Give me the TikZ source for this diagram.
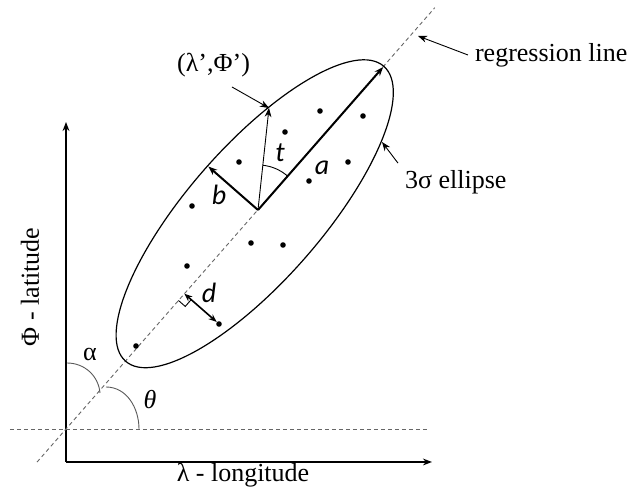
\documentclass[tikz,border=0pt]{standalone}
\usepackage{fontspec}
\setmainfont{Liberation Serif}
\newfontfamily\calfont{Carlito}
\usetikzlibrary{arrows.meta,calc,positioning}

\begin{document}
\begin{tikzpicture}[x=0.5pt, y=0.5pt, font=\fontsize{13}{15}\selectfont,
        tip/.style={-{Stealth[length=4.5pt,width=3.4pt]}},
        vec/.style={tip, line width=1pt},
        thinvec/.style={tip, line width=0.45pt},
        dot/.style={circle, fill, inner sep=0pt, minimum size=2.8pt},
        dashline/.style={dash pattern=on 2pt off 1.5pt, line width=0.45pt, gray!80!black},
        anglearc/.style={line width=0.45pt, gray!70!black},
        sym/.style={font=\calfont\itshape\fontsize{14}{16}\selectfont}]
        \useasboundingbox (0,0) rectangle (629,493);

        % axes
        \coordinate (origin) at (66,31);
        \coordinate (ytop) at (66,371);
        \coordinate (xend) at (432,31);
        \draw[tip, line width=1pt] (origin) -- (ytop);
        \draw[tip, line width=1pt] (origin) -- (xend);
        \node (xlabel) at (243,18) {λ - longitude};
        \node[rotate=90] (ylabel) at (30,206) {Φ - latitude};

        % horizontal and regression lines
        \coordinate (hleft) at (10,64);
        \coordinate (hright) at (430,64);
        \coordinate (cross) at (66,64);
        \coordinate (rlow) at ($(cross)+(228.8:44)$);
        \coordinate (rhigh) at ($(cross)+(48.8:560)$);
        \draw[dashline] (hleft) -- (hright);
        \draw[dashline] (rlow) -- (rhigh);

        % ellipse and its axes
        \coordinate (center) at (258,283);
        \coordinate (ellcenter) at ($(center)+(228.8:5)$);
        \draw[line width=0.6pt, rotate around={48.8:(ellcenter)}] (ellcenter) ellipse [x radius=196, y radius=67];
        \coordinate (atip) at ($(center)+(48.8:190)$);
        \coordinate (btip) at ($(center)+(138.8:66)$);
        \coordinate (newpt) at (269,385);
        \draw[vec] (center) -- (atip);
        \draw[vec] (center) -- (btip);
        \draw[thinvec] (center) -- (newpt);
        \draw[line width=0.45pt] ($(center)+(83.8:45)$) arc[start angle=83.8, end angle=48.8, radius=45];
        \node[sym] (alabel) at (322,325) {a};
        \node[sym] (blabel) at (219,298) {b};
        \node[sym] (tlabel) at (280,340) {t};

        % observations
        \foreach \px/\py [count=\i] in {320/382, 363/377, 285/361, 239/331, 348/331, 309/312,
                192/287, 251/250, 283/248, 187/227, 219/169, 136/147}
            \node[dot] (obs\i) at (\px,\py) {};

        % distance d to the line
        \coordinate (foot) at ($(rlow)!(obs11)!(rhigh)$);
        \coordinate (mark1) at ($(foot)!4.5pt!(rlow)$);
        \coordinate (mark3) at ($(foot)!4.5pt!(obs11)$);
        \coordinate (mark2) at ($(mark1)+(mark3)-(foot)$);
        \draw[line width=0.45pt] (mark1) -- (mark2) -- (mark3);
        \draw[{Stealth[length=4pt,width=3.2pt]}-{Stealth[length=4pt,width=3.2pt]}, line width=0.8pt] (foot) -- (obs11);
        \node[sym] (dlabel) at (209,200) {d};

        % angles
        \coordinate (alpha1) at (67,130);
        \coordinate (alpha2) at (100,100);
        \coordinate (theta1) at (106,106);
        \coordinate (theta2) at (139,64);
        \draw[anglearc] (alpha1) to[out=0, in=95] (alpha2);
        \draw[anglearc] (theta1) to[out=0, in=90] (theta2);
        \node (alphalabel) at (90,138) {α};
        \node (thetalabel) at (150,93) {\textit{θ}};

        % annotations
        \node[anchor=west] (regtext) at (468,438) {regression line};
        \coordinate (regpt) at (418,457);
        \draw[thinvec] (regtext.west) -- (regpt);
        \node[anchor=west] (elltext) at (398,311) {3σ ellipse};
        \coordinate (ellpt) at (382,351);
        \draw[thinvec] (elltext.north west) -- (ellpt);
        \node[anchor=south east] (ptlabel) at (257,409) {(λ’,Φ’)};
        \coordinate (ptfrom) at (232,406);
        \draw[thinvec] (ptfrom) -- (newpt);
    \end{tikzpicture}
\end{document}
